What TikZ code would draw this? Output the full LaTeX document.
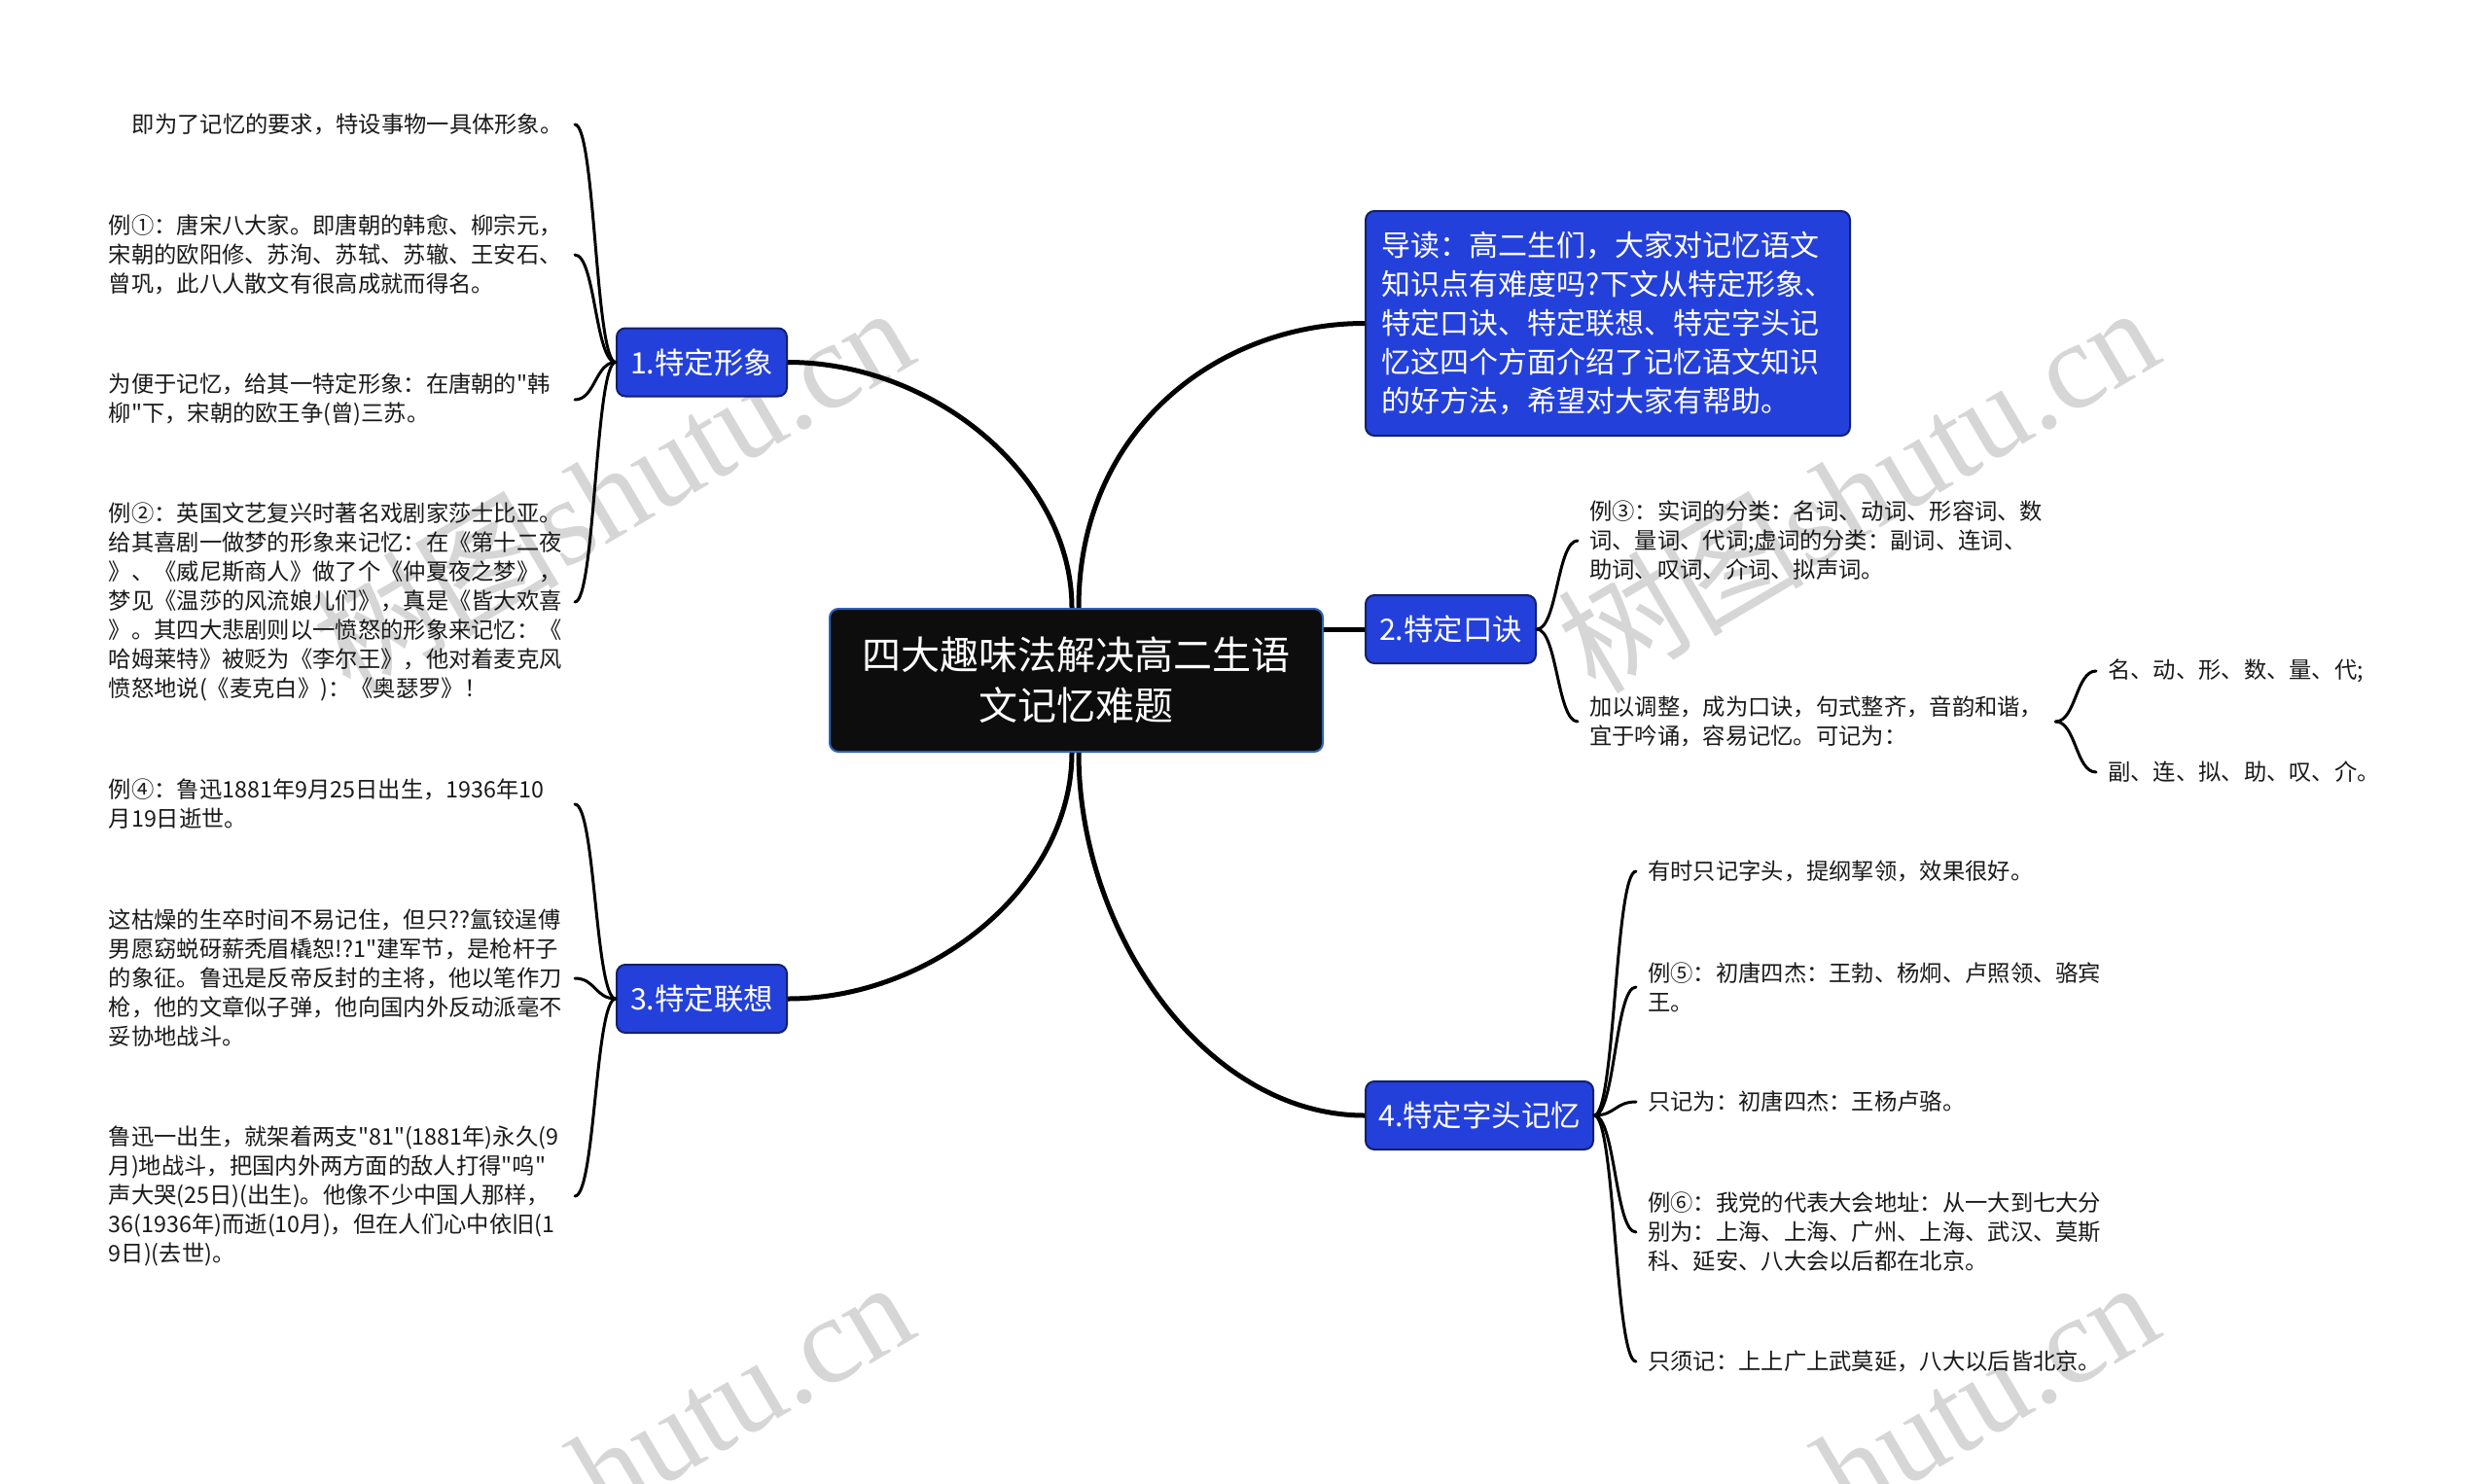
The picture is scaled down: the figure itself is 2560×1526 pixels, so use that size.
\documentclass[tikz,border=0pt]{standalone}
\usepackage{fontspec}
\setmainfont{Noto Sans CJK SC}
\newfontfamily\cjktext{Noto Sans CJK SC}
\newfontfamily\wmlat{Liberation Serif}
\usetikzlibrary{calc}
\definecolor{topicblue}{HTML}{2440DB}
\definecolor{topicedge}{HTML}{14206B}
\definecolor{rootfill}{HTML}{0D0D0D}
\definecolor{rootedge}{HTML}{2F62B5}
\definecolor{wmgrey}{HTML}{D6D6D6}
\definecolor{inktext}{HTML}{1A1A1A}
\newcommand{\cjsize}[2]{\cjktext\fontsize{#1}{#2}\selectfont}
\tikzset{
  rootbox/.style={draw=rootedge,line width=2pt,fill=rootfill,rounded corners=9pt,text=white,align=center,
    minimum width=507pt,minimum height=147pt,inner sep=0pt,font=\cjsize{40pt}{52pt}},
  topicbox/.style={draw=topicedge,line width=2pt,fill=topicblue,rounded corners=9pt,text=white,align=center,
    minimum height=70pt,inner sep=0pt,font=\cjsize{30.4pt}{40pt}},
  introbox/.style={draw=topicedge,line width=2pt,fill=topicblue,rounded corners=9pt,text=white,align=left,
    minimum width=498pt,minimum height=231pt,inner xsep=12pt,inner ysep=0pt,font=\cjsize{30pt}{40pt}},
  leafl/.style={anchor=east,align=left,text width=479pt,inner sep=0pt,text=inktext,yshift=-1pt,font=\cjsize{23.3pt}{30pt}},
  leafr/.style={anchor=west,align=left,inner xsep=12pt,inner ysep=0pt,text=inktext,yshift=-1pt,font=\cjsize{23.3pt}{30pt}},
  mainlink/.style={draw=black,line width=5pt},
  sublink/.style={draw=black,line width=3pt,line cap=round},
  wmark/.style={anchor=base east,rotate=30.5,text=wmgrey,inner sep=0pt,font=\cjsize{127pt}{127pt}},
}
\newcommand{\lnk}[2]{\draw[sublink] let \p1=(#1),\p2=(#2),\n1={(\x1+\x2)/2} in (\p1) .. controls (\n1,\y1) and (\n1,\y2) .. (\p2);}
\begin{document}
\begin{tikzpicture}[x=1pt,y=-1pt]
\useasboundingbox[fill=white] (0,0) rectangle (2560,1526);
% watermarks
\begin{scope}
\clip (0,0) rectangle (2560,1526);
\node[wmark] (wm1) at (947,370) {树图{\wmlat shutu.cn}};
\node[wmark] (wm2) at (2227,370) {树图{\wmlat shutu.cn}};
\node[wmark] (wm3) at (947,1372) {{\wmlat hutu.cn}};
\node[wmark] (wm4) at (2227,1372) {{\wmlat hutu.cn}};
\end{scope}
% nodes
\node[rootbox] (root) at (1106.5,699.5) {四大趣味法解决高二生语\\文记忆难题};
\node[introbox] (intro) at (1653,332.5) {导读：高二生们，大家对记忆语文\\知识点有难度吗?下文从特定形象、\\特定口诀、特定联想、特定字头记\\忆这四个方面介绍了记忆语文知识\\的好方法，希望对大家有帮助。};
\node[topicbox,minimum width=175pt] (t1) at (721.5,372.5) {1.特定形象};
\node[topicbox,minimum width=175pt] (t2) at (1491.5,647) {2.特定口诀};
\node[topicbox,minimum width=175pt] (t3) at (721.5,1027) {3.特定联想};
\node[topicbox,minimum width=234pt] (t4) at (1521,1147) {4.特定字头记忆};
% left leaves of topic 1
\node[leafl] (a1) at (591,127) {\hspace*{24pt}即为了记忆的要求，特设事物一具体形象。};
\node[leafl] (a2) at (591,261) {例①：唐宋八大家。即唐朝的韩愈、柳宗元，\\宋朝的欧阳修、苏洵、苏轼、苏辙、王安石、\\曾巩，此八人散文有很高成就而得名。};
\node[leafl] (a3) at (591,410) {为便于记忆，给其一特定形象：在唐朝的"韩\\柳"下，宋朝的欧王争(曾)三苏。};
\node[leafl] (a4) at (591,618) {例②：英国文艺复兴时著名戏剧家莎士比亚。\\给其喜剧一做梦的形象来记忆：在《第十二夜\\》、《威尼斯商人》做了个《仲夏夜之梦》，\\梦见《温莎的风流娘儿们》，真是《皆大欢喜\\》。其四大悲剧则以一愤怒的形象来记忆：《\\哈姆莱特》被贬为《李尔王》，他对着麦克风\\愤怒地说(《麦克白》)：《奥瑟罗》！};
% left leaves of topic 3
\node[leafl] (c1) at (591,826) {例④：鲁迅1881年9月25日出生，1936年10\\月19日逝世。};
\node[leafl] (c2) at (591,1005) {这枯燥的生卒时间不易记住，但只??氲铰逞傅\\男愿窈蜕砑薪秃眉橇恕!?1"建军节，是枪杆子\\的象征。鲁迅是反帝反封的主将，他以笔作刀\\枪，他的文章似子弹，他向国内外反动派毫不\\妥协地战斗。};
\node[leafl] (c3) at (591,1229) {鲁迅一出生，就架着两支"81"(1881年)永久(9\\月)地战斗，把国内外两方面的敌人打得"呜"\\声大哭(25日)(出生)。他像不少中国人那样，\\36(1936年)而逝(10月)，但在人们心中依旧(1\\9日)(去世)。};
% right leaves of topic 2
\node[leafr] (b1) at (1622,555) {例③：实词的分类：名词、动词、形容词、数\\词、量词、代词;虚词的分类：副词、连词、\\助词、叹词、介词、拟声词。};
\node[leafr,text width=467pt] (b2) at (1622,741) {加以调整，成为口诀，句式整齐，音韵和谐，\\宜于吟诵，容易记忆。可记为：};
\node[leafr] (b3) at (2155,689) {名、动、形、数、量、代;};
\node[leafr] (b4) at (2155,793) {副、连、拟、助、叹、介。};
% right leaves of topic 4
\node[leafr] (d1) at (1682,895) {有时只记字头，提纲挈领，效果很好。};
\node[leafr] (d2) at (1682,1014) {例⑤：初唐四杰：王勃、杨炯、卢照领、骆宾\\王。};
\node[leafr] (d3) at (1682,1132) {只记为：初唐四杰：王杨卢骆。};
\node[leafr] (d4) at (1682,1266) {例⑥：我党的代表大会地址：从一大到七大分\\别为：上海、上海、广州、上海、武汉、莫斯\\科、延安、八大会以后都在北京。};
\node[leafr] (d5) at (1682,1399) {只须记：上上广上武莫延，八大以后皆北京。};
% main connectors
\coordinate (rn1) at ($(root.north)+(-4.5,0)$);
\coordinate (rn2) at ($(root.north)+(2.5,0)$);
\coordinate (rs1) at ($(root.south)+(-4.5,0)$);
\coordinate (rs2) at ($(root.south)+(2.5,0)$);
\draw[mainlink] (t1.east) .. controls (960,372.5) and (1102,490) .. (rn1);
\draw[mainlink] (intro.west) .. controls (1254,332.5) and (1109,440) .. (rn2);
\draw[mainlink] (root.east |- t2.west) -- (t2.west);
\draw[mainlink] (t3.east) .. controls (960,1027) and (1102,910) .. (rs1);
\draw[mainlink] (t4.west) .. controls (1240,1147) and (1109,960) .. (rs2);
% sub connectors
\lnk{t1.west}{a1.east}\lnk{t1.west}{a2.east}\lnk{t1.west}{a3.east}\lnk{t1.west}{a4.east}
\lnk{t3.west}{c1.east}\lnk{t3.west}{c2.east}\lnk{t3.west}{c3.east}
\lnk{t2.east}{b1.west}\lnk{t2.east}{b2.west}\lnk{b2.east}{b3.west}\lnk{b2.east}{b4.west}
\lnk{t4.east}{d1.west}\lnk{t4.east}{d2.west}\lnk{t4.east}{d3.west}\lnk{t4.east}{d4.west}\lnk{t4.east}{d5.west}
\end{tikzpicture}
\end{document}
